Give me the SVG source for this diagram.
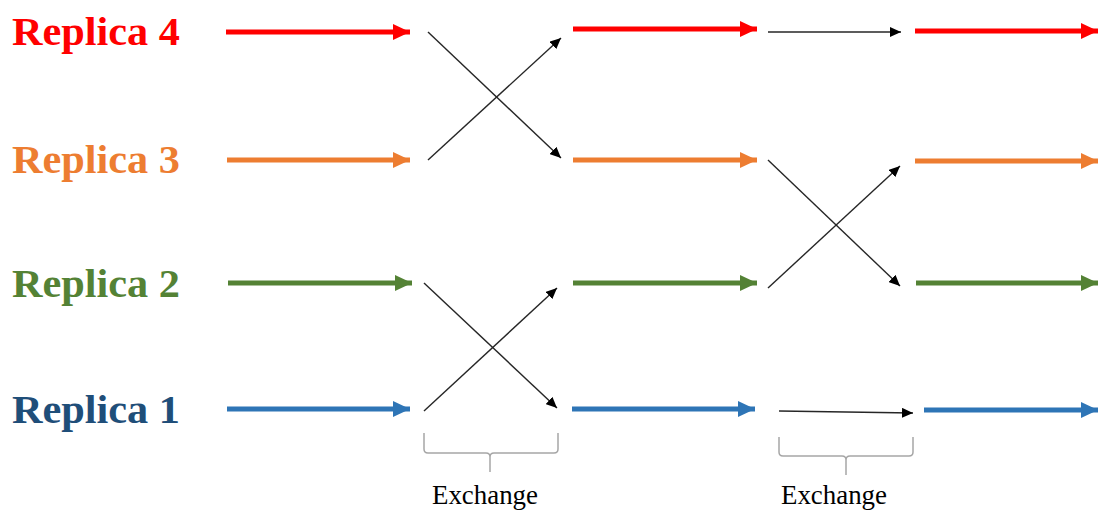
<svg xmlns="http://www.w3.org/2000/svg" width="1099" height="511" viewBox="0 0 1099 511">
<style>
.lbl{font-family:"Liberation Serif","Times New Roman",serif;font-weight:bold;font-size:40px}
.ex{font-family:"Liberation Serif","Times New Roman",serif;font-size:27px;fill:#000}
.thick{stroke-width:5;fill:none}
.thin{stroke:#262626;stroke-width:1.4;fill:none;marker-end:url(#mk)}
.brace{stroke:#A6A6A6;stroke-width:1.5;fill:none}
</style>
<defs>
<marker id="mr" markerUnits="userSpaceOnUse" markerWidth="18" markerHeight="16" refX="17" refY="8" orient="auto"><path d="M0,0 L17,8 L0,16 Z" fill="#FF0000"/></marker>
<marker id="mo" markerUnits="userSpaceOnUse" markerWidth="18" markerHeight="16" refX="17" refY="8" orient="auto"><path d="M0,0 L17,8 L0,16 Z" fill="#ED7D31"/></marker>
<marker id="mg" markerUnits="userSpaceOnUse" markerWidth="18" markerHeight="16" refX="17" refY="8" orient="auto"><path d="M0,0 L17,8 L0,16 Z" fill="#548235"/></marker>
<marker id="mb" markerUnits="userSpaceOnUse" markerWidth="18" markerHeight="16" refX="17" refY="8" orient="auto"><path d="M0,0 L17,8 L0,16 Z" fill="#2E75B6"/></marker>
<marker id="mk" markerUnits="userSpaceOnUse" markerWidth="12" markerHeight="10" refX="11" refY="5" orient="auto"><path d="M0,0 L11,5 L0,10 Z" fill="#000"/></marker>
</defs>

<g id="replica4"><text class="lbl" x="12" y="45" fill="#FF0000" textLength="168" lengthAdjust="spacingAndGlyphs">Replica 4</text></g>
<g id="replica3"><text class="lbl" x="12" y="173" fill="#ED7D31" textLength="168" lengthAdjust="spacingAndGlyphs">Replica 3</text></g>
<g id="replica2"><text class="lbl" x="12" y="297" fill="#548235" textLength="168" lengthAdjust="spacingAndGlyphs">Replica 2</text></g>
<g id="replica1"><text class="lbl" x="12" y="423" fill="#1F4E79" textLength="168" lengthAdjust="spacingAndGlyphs">Replica 1</text></g>

<g id="exchange1">
<path class="brace" d="M424,433 L424,449 Q424,453 428,453 L486,453 Q490,453 490,457 L490,472 M490,457 Q490,453 494,453 L554,453 Q558,453 558,449 L558,433"/>
<text class="ex" x="432" y="504" textLength="106" lengthAdjust="spacingAndGlyphs">Exchange</text>
</g>
<g id="exchange2">
<path class="brace" d="M779,437 L779,452 Q779,456 783,456 L842,456 Q846,456 846,460 L846,475 M846,460 Q846,456 850,456 L909,456 Q913,456 913,452 L913,437"/>
<text class="ex" x="781" y="504" textLength="106" lengthAdjust="spacingAndGlyphs">Exchange</text>
</g>

<g id="connectors">
<line class="thick" x1="226" y1="32" x2="410" y2="32" stroke="#FF0000" marker-end="url(#mr)"/>
<line class="thick" x1="227" y1="160" x2="410" y2="160" stroke="#ED7D31" marker-end="url(#mo)"/>
<line class="thick" x1="228" y1="283" x2="412" y2="283" stroke="#548235" marker-end="url(#mg)"/>
<line class="thick" x1="227" y1="409" x2="410" y2="409" stroke="#2E75B6" marker-end="url(#mb)"/>

<line class="thin" x1="428" y1="32" x2="561" y2="158"/>
<line class="thin" x1="428" y1="160" x2="561" y2="38"/>
<line class="thin" x1="424" y1="283" x2="557" y2="408"/>
<line class="thin" x1="424" y1="411" x2="557" y2="288"/>

<line class="thick" x1="573" y1="29" x2="757" y2="29" stroke="#FF0000" marker-end="url(#mr)"/>
<line class="thick" x1="573" y1="160" x2="757" y2="160" stroke="#ED7D31" marker-end="url(#mo)"/>
<line class="thick" x1="573" y1="283" x2="757" y2="283" stroke="#548235" marker-end="url(#mg)"/>
<line class="thick" x1="572" y1="409" x2="755" y2="409" stroke="#2E75B6" marker-end="url(#mb)"/>

<line class="thin" x1="768" y1="32" x2="901" y2="32"/>
<line class="thin" x1="768" y1="160" x2="900" y2="286"/>
<line class="thin" x1="768" y1="288" x2="900" y2="166"/>
<line class="thin" x1="779" y1="411" x2="913" y2="413"/>

<line class="thick" x1="915" y1="31" x2="1098" y2="31" stroke="#FF0000" marker-end="url(#mr)"/>
<line class="thick" x1="915" y1="161" x2="1098" y2="161" stroke="#ED7D31" marker-end="url(#mo)"/>
<line class="thick" x1="916" y1="283" x2="1098" y2="283" stroke="#548235" marker-end="url(#mg)"/>
<line class="thick" x1="924" y1="410" x2="1098" y2="410" stroke="#2E75B6" marker-end="url(#mb)"/>
</g>
</svg>
